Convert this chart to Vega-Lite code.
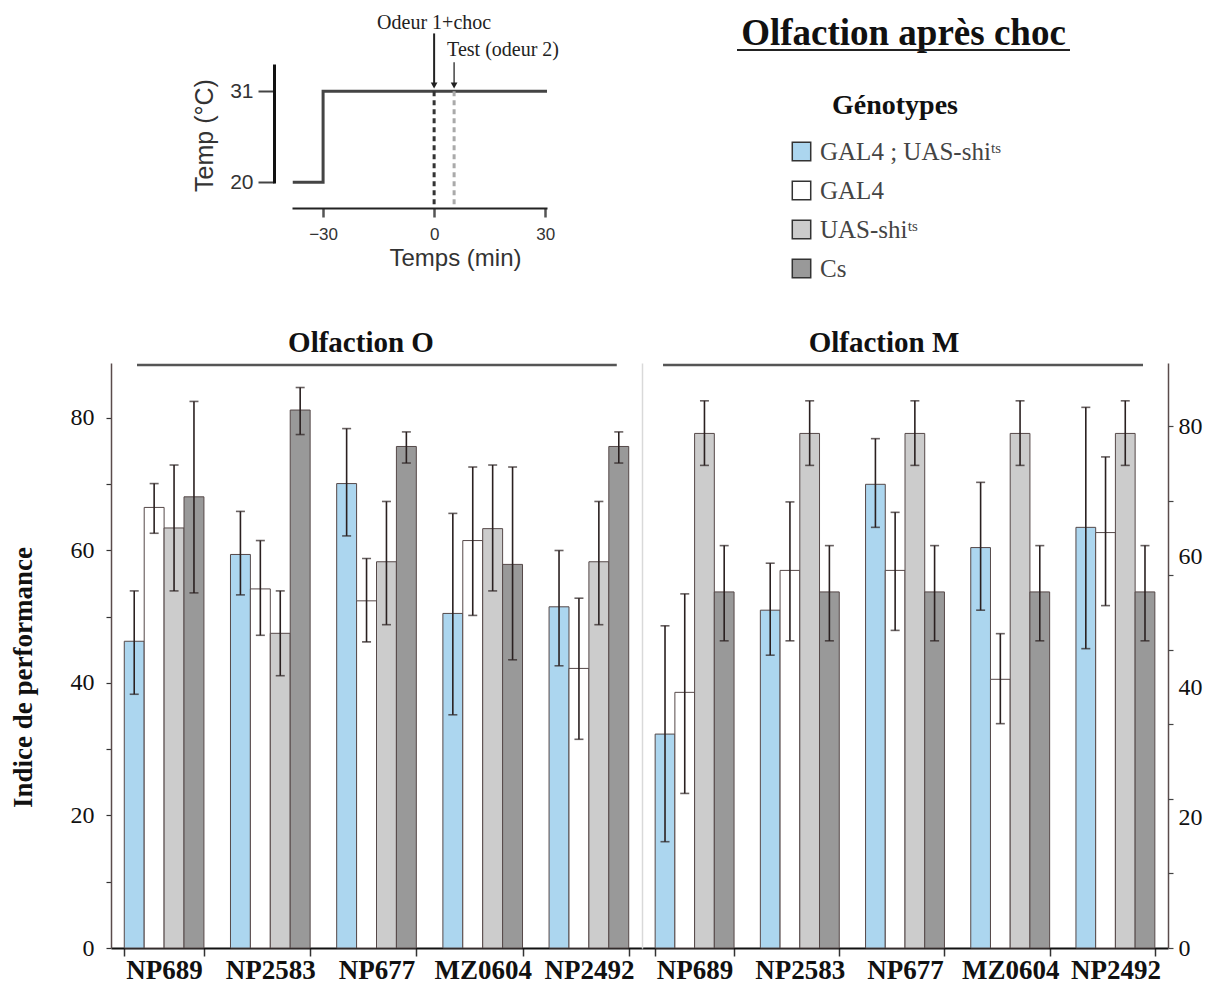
{
  "$schema": "https://vega.github.io/schema/vega-lite/v6.json",
  "width": 1057,
  "height": 585,
  "autosize": {"type": "none"},
  "padding": {"left": 111, "top": 363, "right": 43, "bottom": 36},
  "background": "white",
  "config": {"view": {"stroke": null}, "font": "Liberation Serif"},
  "datasets": {
    "bars": [
      {"panel": "O", "line": "NP689", "genotype": "GAL4 ; UAS-shiᵗˢ", "mean": 46.3, "lo": 38.3, "hi": 53.9},
      {"panel": "O", "line": "NP689", "genotype": "GAL4", "mean": 66.5, "lo": 62.6, "hi": 70.1},
      {"panel": "O", "line": "NP689", "genotype": "UAS-shiᵗˢ", "mean": 63.4, "lo": 53.9, "hi": 72.9},
      {"panel": "O", "line": "NP689", "genotype": "Cs", "mean": 68.1, "lo": 53.6, "hi": 82.5},
      {"panel": "O", "line": "NP2583", "genotype": "GAL4 ; UAS-shiᵗˢ", "mean": 59.4, "lo": 53.3, "hi": 65.9},
      {"panel": "O", "line": "NP2583", "genotype": "GAL4", "mean": 54.2, "lo": 47.2, "hi": 61.5},
      {"panel": "O", "line": "NP2583", "genotype": "UAS-shiᵗˢ", "mean": 47.5, "lo": 41.1, "hi": 53.9},
      {"panel": "O", "line": "NP2583", "genotype": "Cs", "mean": 81.2, "lo": 77.5, "hi": 84.6},
      {"panel": "O", "line": "NP677", "genotype": "GAL4 ; UAS-shiᵗˢ", "mean": 70.1, "lo": 62.2, "hi": 78.4},
      {"panel": "O", "line": "NP677", "genotype": "GAL4", "mean": 52.4, "lo": 46.2, "hi": 58.8},
      {"panel": "O", "line": "NP677", "genotype": "UAS-shiᵗˢ", "mean": 58.3, "lo": 48.8, "hi": 67.4},
      {"panel": "O", "line": "NP677", "genotype": "Cs", "mean": 75.7, "lo": 73.2, "hi": 77.9},
      {"panel": "O", "line": "MZ0604", "genotype": "GAL4 ; UAS-shiᵗˢ", "mean": 50.5, "lo": 35.2, "hi": 65.6},
      {"panel": "O", "line": "MZ0604", "genotype": "GAL4", "mean": 61.5, "lo": 50.2, "hi": 72.6},
      {"panel": "O", "line": "MZ0604", "genotype": "UAS-shiᵗˢ", "mean": 63.3, "lo": 53.9, "hi": 72.9},
      {"panel": "O", "line": "MZ0604", "genotype": "Cs", "mean": 57.9, "lo": 43.5, "hi": 72.6},
      {"panel": "O", "line": "NP2492", "genotype": "GAL4 ; UAS-shiᵗˢ", "mean": 51.5, "lo": 42.6, "hi": 60.0},
      {"panel": "O", "line": "NP2492", "genotype": "GAL4", "mean": 42.2, "lo": 31.5, "hi": 52.8},
      {"panel": "O", "line": "NP2492", "genotype": "UAS-shiᵗˢ", "mean": 58.3, "lo": 48.8, "hi": 67.4},
      {"panel": "O", "line": "NP2492", "genotype": "Cs", "mean": 75.7, "lo": 73.2, "hi": 77.9},
      {"panel": "M", "line": "NP689", "genotype": "GAL4 ; UAS-shiᵗˢ", "mean": 32.8, "lo": 16.3, "hi": 49.4},
      {"panel": "M", "line": "NP689", "genotype": "GAL4", "mean": 39.2, "lo": 23.7, "hi": 54.3},
      {"panel": "M", "line": "NP689", "genotype": "UAS-shiᵗˢ", "mean": 78.9, "lo": 74.0, "hi": 83.9},
      {"panel": "M", "line": "NP689", "genotype": "Cs", "mean": 54.6, "lo": 47.1, "hi": 61.7},
      {"panel": "M", "line": "NP2583", "genotype": "GAL4 ; UAS-shiᵗˢ", "mean": 51.8, "lo": 44.9, "hi": 59.0},
      {"panel": "M", "line": "NP2583", "genotype": "GAL4", "mean": 57.9, "lo": 47.1, "hi": 68.4},
      {"panel": "M", "line": "NP2583", "genotype": "UAS-shiᵗˢ", "mean": 78.9, "lo": 74.0, "hi": 83.9},
      {"panel": "M", "line": "NP2583", "genotype": "Cs", "mean": 54.6, "lo": 47.1, "hi": 61.7},
      {"panel": "M", "line": "NP677", "genotype": "GAL4 ; UAS-shiᵗˢ", "mean": 71.1, "lo": 64.5, "hi": 78.1},
      {"panel": "M", "line": "NP677", "genotype": "GAL4", "mean": 57.9, "lo": 48.7, "hi": 66.8},
      {"panel": "M", "line": "NP677", "genotype": "UAS-shiᵗˢ", "mean": 78.9, "lo": 74.0, "hi": 83.9},
      {"panel": "M", "line": "NP677", "genotype": "Cs", "mean": 54.6, "lo": 47.1, "hi": 61.7},
      {"panel": "M", "line": "MZ0604", "genotype": "GAL4 ; UAS-shiᵗˢ", "mean": 61.4, "lo": 51.8, "hi": 71.4},
      {"panel": "M", "line": "MZ0604", "genotype": "GAL4", "mean": 41.2, "lo": 34.4, "hi": 48.2},
      {"panel": "M", "line": "MZ0604", "genotype": "UAS-shiᵗˢ", "mean": 78.9, "lo": 74.0, "hi": 83.9},
      {"panel": "M", "line": "MZ0604", "genotype": "Cs", "mean": 54.6, "lo": 47.1, "hi": 61.7},
      {"panel": "M", "line": "NP2492", "genotype": "GAL4 ; UAS-shiᵗˢ", "mean": 64.5, "lo": 45.9, "hi": 82.9},
      {"panel": "M", "line": "NP2492", "genotype": "GAL4", "mean": 63.7, "lo": 52.5, "hi": 75.3},
      {"panel": "M", "line": "NP2492", "genotype": "UAS-shiᵗˢ", "mean": 78.9, "lo": 74.0, "hi": 83.9},
      {"panel": "M", "line": "NP2492", "genotype": "Cs", "mean": 54.6, "lo": 47.1, "hi": 61.7}
    ],
    "temperature": [
      {"i": 1, "t": -38.2, "temp": 20},
      {"i": 2, "t": -30, "temp": 20},
      {"i": 3, "t": -30, "temp": 31},
      {"i": 4, "t": 30.5, "temp": 31}
    ],
    "events": [
      {"event": "Odeur 1+choc", "t": 0},
      {"event": "Test (odeur 2)", "t": 5.4}
    ]
  },
  "resolve": {
    "scale": {"x": "independent", "y": "independent", "xOffset": "independent"},
    "axis": {"x": "independent", "y": "independent"}
  },
  "layer": [
    {
      "data": {"name": "bars"},
      "transform": [{"filter": "datum.panel == 'O'"}],
      "resolve": {"axis": {"x": "independent", "y": "independent"}},
      "layer": [
        {
          "mark": {"type": "bar", "stroke": "#554848", "strokeWidth": 1},
          "encoding": {
            "x": {
              "field": "line", "type": "nominal", "sort": null,
              "scale": {"domain": ["NP689", "NP2583", "NP677", "MZ0604", "NP2492"], "range": [0, 531], "paddingInner": 0.25, "paddingOuter": 0.125},
              "axis": {"orient": "bottom", "title": null, "tickBand": "extent", "tickSize": 8, "tickColor": "#333", "tickWidth": 1.5, "domainColor": "#111", "domainWidth": 2, "labelFont": "Liberation Serif", "labelFontWeight": "bold", "labelFontSize": 27, "labelColor": "#111", "labelPadding": 1, "labelAngle": 0, "labelOverlap": false, "labelBound": false, "grid": false}
            },
            "xOffset": {"field": "genotype", "type": "nominal", "sort": null, "scale": {"domain": ["GAL4 ; UAS-shiᵗˢ", "GAL4", "UAS-shiᵗˢ", "Cs"], "paddingInner": 0, "paddingOuter": 0}},
            "y": {
              "field": "mean", "type": "quantitative",
              "scale": {"domain": [0, 88.3], "nice": false, "zero": true},
              "axis": {"orient": "left", "values": [0, 10, 20, 30, 40, 50, 60, 70, 80], "labelExpr": "datum.value % 20 == 0 ? datum.label : ''", "tickSize": 5, "tickColor": "#333", "tickWidth": 1.2, "domainColor": "#5a4b4b", "domainWidth": 1.5, "labelFont": "Liberation Serif", "labelFontSize": 24, "labelColor": "#111", "labelPadding": 12, "title": "Indice de performance", "titleFont": "Liberation Serif", "titleFontSize": 27, "titleFontWeight": "bold", "titleColor": "#111", "titlePadding": 33, "titleY": 314, "grid": false}
            },
            "fill": {
              "field": "genotype", "type": "nominal",
              "scale": {"domain": ["GAL4 ; UAS-shiᵗˢ", "GAL4", "UAS-shiᵗˢ", "Cs"], "range": ["#acd6ef", "#ffffff", "#cccccc", "#999999"]},
              "legend": {"orient": "none", "legendX": 678, "legendY": -271, "direction": "vertical", "title": "Génotypes", "titleFont": "Liberation Serif", "titleFontSize": 28, "titleFontWeight": "bold", "titleColor": "#111", "titleAnchor": "middle", "titlePadding": 19, "labelFont": "Liberation Serif", "labelFontSize": 25, "labelColor": "#444", "labelOffset": 6, "labelLimit": 0, "symbolType": "square", "symbolSize": 340, "symbolStrokeColor": "#333", "symbolStrokeWidth": 1.5, "symbolOpacity": 1, "rowPadding": 13, "padding": 0}
            }
          }
        },
        {
          "mark": {"type": "rule", "stroke": "#2a2020", "strokeWidth": 1.6},
          "encoding": {
            "x": {"field": "line", "type": "nominal", "sort": null, "axis": null},
            "xOffset": {"field": "genotype", "type": "nominal", "sort": null},
            "y": {"field": "lo", "type": "quantitative", "scale": {"domain": [0, 88.3], "nice": false}, "axis": null},
            "y2": {"field": "hi"}
          }
        },
        {
          "transform": [{"fold": ["lo", "hi"], "as": ["end", "val"]}],
          "mark": {"type": "tick", "color": "#2a2020", "thickness": 1.6},
          "encoding": {
            "x": {"field": "line", "type": "nominal", "sort": null, "axis": null},
            "xOffset": {"field": "genotype", "type": "nominal", "sort": null},
            "y": {"field": "val", "type": "quantitative", "scale": {"domain": [0, 88.3], "nice": false}, "axis": null},
            "size": {"value": 9}
          }
        },
        {
          "data": {"values": [{"header": "Olfaction O"}]},
          "mark": {"type": "text", "font": "Liberation Serif", "fontSize": 29, "fontWeight": "bold", "baseline": "middle", "align": "center", "color": "#111"},
          "encoding": {
            "x": {"datum": "NP677", "type": "nominal", "bandPosition": 0.305, "axis": null},
            "y": {"datum": 91.3, "type": "quantitative", "scale": {"domain": [0, 88.3], "nice": false}, "axis": null},
            "text": {"field": "header"}
          }
        },
        {
          "data": {"values": [{"header": "Olfaction O"}]},
          "mark": {"type": "rule", "stroke": "#555", "strokeWidth": 2.5},
          "encoding": {
            "x": {"datum": "NP689", "type": "nominal", "bandPosition": 0.16, "axis": null},
            "x2": {"datum": "NP2492", "bandPosition": 0.85},
            "y": {"datum": 88.0, "type": "quantitative", "scale": {"domain": [0, 88.3], "nice": false}, "axis": null}
          }
        }
      ]
    },
    {
      "data": {"name": "bars"},
      "transform": [{"filter": "datum.panel == 'M'"}],
      "resolve": {"axis": {"x": "independent", "y": "independent"}},
      "layer": [
        {
          "mark": {"type": "bar", "stroke": "#554848", "strokeWidth": 1},
          "encoding": {
            "x": {
              "field": "line", "type": "nominal", "sort": null,
              "scale": {"domain": ["NP689", "NP2583", "NP677", "MZ0604", "NP2492"], "range": [531, 1057], "paddingInner": 0.25, "paddingOuter": 0.125},
              "axis": {"orient": "bottom", "title": null, "tickBand": "extent", "tickSize": 8, "tickColor": "#333", "tickWidth": 1.5, "domainColor": "#111", "domainWidth": 2, "labelFont": "Liberation Serif", "labelFontWeight": "bold", "labelFontSize": 27, "labelColor": "#111", "labelPadding": 1, "labelAngle": 0, "labelOverlap": false, "labelBound": false, "grid": false}
            },
            "xOffset": {"field": "genotype", "type": "nominal", "sort": null, "scale": {"domain": ["GAL4 ; UAS-shiᵗˢ", "GAL4", "UAS-shiᵗˢ", "Cs"], "paddingInner": 0, "paddingOuter": 0}},
            "y": {
              "field": "mean", "type": "quantitative",
              "scale": {"domain": [0, 89.7], "nice": false, "zero": true},
              "axis": {"orient": "right", "values": [0, 20, 40, 60, 80], "ticks": false, "domainColor": "#5a4b4b", "domainWidth": 1.5, "labelFont": "Liberation Serif", "labelFontSize": 24, "labelColor": "#111", "labelPadding": 10, "title": null, "grid": false}
            },
            "fill": {"field": "genotype", "type": "nominal", "legend": null}
          }
        },
        {
          "mark": {"type": "rule", "stroke": "#2a2020", "strokeWidth": 1.6},
          "encoding": {
            "x": {"field": "line", "type": "nominal", "sort": null, "axis": null},
            "xOffset": {"field": "genotype", "type": "nominal", "sort": null},
            "y": {
              "field": "lo", "type": "quantitative", "scale": {"domain": [0, 89.7], "nice": false},
              "axis": {"orient": "right", "values": [0, 11.428571, 22.857143, 34.285714, 45.714286, 57.142857, 68.571429, 80], "labels": false, "domain": false, "tickSize": 5, "tickColor": "#444", "tickWidth": 1.2, "title": null, "grid": false}
            },
            "y2": {"field": "hi"}
          }
        },
        {
          "transform": [{"fold": ["lo", "hi"], "as": ["end", "val"]}],
          "mark": {"type": "tick", "color": "#2a2020", "thickness": 1.6},
          "encoding": {
            "x": {"field": "line", "type": "nominal", "sort": null, "axis": null},
            "xOffset": {"field": "genotype", "type": "nominal", "sort": null},
            "y": {
              "field": "val", "type": "quantitative", "scale": {"domain": [0, 89.7], "nice": false},
              "axis": {"orient": "left", "offset": -531, "ticks": false, "labels": false, "domainColor": "#d9d9d9", "domainWidth": 1.5, "title": null, "grid": false}
            },
            "size": {"value": 9}
          }
        },
        {
          "data": {"values": [{"header": "Olfaction M"}]},
          "mark": {"type": "text", "font": "Liberation Serif", "fontSize": 29, "fontWeight": "bold", "baseline": "middle", "align": "center", "color": "#111"},
          "encoding": {
            "x": {"datum": "NP677", "type": "nominal", "bandPosition": 0.234, "axis": null},
            "y": {"datum": 92.8, "type": "quantitative", "scale": {"domain": [0, 89.7], "nice": false}, "axis": null},
            "text": {"field": "header"}
          }
        },
        {
          "data": {"values": [{"header": "Olfaction M"}]},
          "mark": {"type": "rule", "stroke": "#555", "strokeWidth": 2.5},
          "encoding": {
            "x": {"datum": "NP689", "type": "nominal", "bandPosition": 0.1, "axis": null},
            "x2": {"datum": "NP2492", "bandPosition": 0.85},
            "y": {"datum": 89.4, "type": "quantitative", "scale": {"domain": [0, 89.7], "nice": false}, "axis": null}
          }
        }
      ]
    },
    {
      "resolve": {"axis": {"x": "independent", "y": "independent"}},
      "layer": [
        {
          "data": {"name": "temperature"},
          "mark": {"type": "line", "stroke": "#444", "strokeWidth": 3},
          "encoding": {
            "x": {
              "field": "t", "type": "quantitative",
              "scale": {"domain": [-38.4, 30.5], "range": [181, 436], "nice": false, "zero": false},
              "axis": {"orient": "bottom", "offset": -740, "values": [-30, 0, 30], "tickSize": 9, "tickWidth": 2.5, "tickColor": "#555", "domainColor": "#222", "domainWidth": 2, "labelFont": "Liberation Sans", "labelFontSize": 17, "labelColor": "#333", "labelPadding": 9, "labelFlush": false, "title": "Temps (min)", "titleFont": "Liberation Sans", "titleFontSize": 24, "titleFontWeight": "normal", "titleColor": "#333", "titlePadding": 4, "titleX": 344, "grid": false}
            },
            "y": {
              "field": "temp", "type": "quantitative",
              "scale": {"domain": [19.9, 34.3], "range": [-180, -299], "nice": false, "zero": false},
              "axis": {"orient": "left", "offset": -163, "values": [20, 31], "tickSize": 16, "tickWidth": 2, "tickColor": "#444", "domainColor": "#111", "domainWidth": 3, "labelFont": "Liberation Sans", "labelFontSize": 21, "labelColor": "#333", "labelPadding": 5, "title": "Temp (°C)", "titleFont": "Liberation Sans", "titleFontSize": 25, "titleFontWeight": "normal", "titleColor": "#333", "titlePadding": 12, "titleY": -228, "grid": false}
            },
            "order": {"field": "i", "type": "quantitative"}
          }
        },
        {
          "data": {"name": "events"},
          "mark": {"type": "rule", "strokeDash": [5, 4], "strokeWidth": 3},
          "encoding": {
            "x": {"field": "t", "type": "quantitative", "axis": null},
            "y": {"datum": 31, "type": "quantitative", "axis": null},
            "y2": {"datum": 16.85},
            "stroke": {"condition": {"test": "datum.t == 0", "value": "#333"}, "value": "#aaa"}
          }
        },
        {
          "data": {"name": "events"},
          "transform": [{"filter": "datum.t == 0"}],
          "layer": [
            {
              "mark": {"type": "rule", "stroke": "#222", "strokeWidth": 2},
              "encoding": {
                "x": {"field": "t", "type": "quantitative", "axis": null},
                "y": {"datum": 31.6, "type": "quantitative", "axis": null},
                "y2": {"datum": 38.0}
              }
            },
            {
              "mark": {"type": "text", "font": "Liberation Serif", "fontSize": 20, "color": "#222", "baseline": "middle", "align": "center"},
              "encoding": {
                "x": {"field": "t", "type": "quantitative", "axis": null},
                "y": {"datum": 39.3, "type": "quantitative", "axis": null},
                "text": {"field": "event"}
              }
            }
          ]
        },
        {
          "data": {"name": "events"},
          "transform": [{"filter": "datum.t > 0"}],
          "layer": [
            {
              "mark": {"type": "rule", "stroke": "#444", "strokeWidth": 1.5},
              "encoding": {
                "x": {"field": "t", "type": "quantitative", "axis": null},
                "y": {"datum": 31.6, "type": "quantitative", "axis": null},
                "y2": {"datum": 34.5}
              }
            },
            {
              "mark": {"type": "text", "font": "Liberation Serif", "fontSize": 20, "color": "#222", "baseline": "middle", "align": "left", "dx": -7},
              "encoding": {
                "x": {"field": "t", "type": "quantitative", "axis": null},
                "y": {"datum": 36.0, "type": "quantitative", "axis": null},
                "text": {"field": "event"}
              }
            }
          ]
        },
        {
          "data": {"name": "events"},
          "mark": {"type": "point", "shape": "triangle-down", "filled": true, "color": "#222", "size": 45, "opacity": 1},
          "encoding": {
            "x": {"field": "t", "type": "quantitative", "axis": null},
            "y": {"datum": 31.7, "type": "quantitative", "axis": null}
          }
        }
      ]
    },
    {
      "data": {"values": [{"title": "Olfaction après choc"}]},
      "layer": [
        {
          "mark": {"type": "text", "font": "Liberation Serif", "fontSize": 37, "fontWeight": "bold", "baseline": "alphabetic", "align": "center", "color": "#111"},
          "encoding": {
            "x": {"datum": 0.5, "type": "quantitative", "scale": {"domain": [0, 1], "range": [626, 959], "nice": false, "zero": false}, "axis": null},
            "y": {"datum": 1, "type": "quantitative", "scale": {"domain": [0, 1], "range": [-313, -318], "nice": false, "zero": false}, "axis": null},
            "text": {"field": "title"}
          }
        },
        {
          "mark": {"type": "rule", "stroke": "#222", "strokeWidth": 2},
          "encoding": {
            "x": {"datum": 0, "type": "quantitative", "axis": null},
            "x2": {"datum": 1},
            "y": {"datum": 0, "type": "quantitative", "axis": null}
          }
        }
      ]
    }
  ]
}
